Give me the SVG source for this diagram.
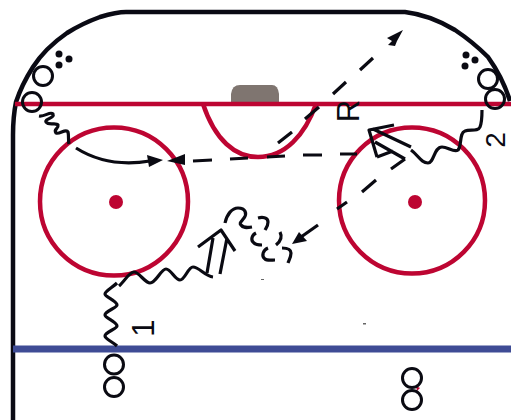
<svg xmlns="http://www.w3.org/2000/svg" width="511" height="420" viewBox="0 0 511 420">
<style>
.red{fill:none;stroke:#bd0532;stroke-width:4.500}
.ink{fill:none;stroke:#0a0a12;stroke-width:3.200;stroke-linecap:butt;stroke-linejoin:round}
.pl{fill:none;stroke:#0a0a12;stroke-width:3}
.dot{fill:#0a0a12}
.lbl{font-family:"Liberation Sans",Arial,sans-serif;font-size:31px;fill:#0a0a12}
</style>
<g id="rink">
<path d="M13 420V135C13 122 14 112 16 102C20 90 26 78 33 67C42 53 54 42 67 33C78 26 89 21 100 17C110 14 118 12 126 12H405C422 14 440 21 455 30C467 38 478 47 488 57C498 71 505 85 510 101" fill="none" stroke="#0a0a14" stroke-width="4.500"/>
<path d="M231 102V94Q232 85 240 85H272Q278 85 279 94V102Z" fill="#7f7570"/>
<path d="M15 104H511" class="red"/>
<path d="M203 104C215 140 235 157 258 157C285 157 305 135 316 104" class="red"/>
<circle cx="114" cy="201.500" r="74" class="red"/>
<circle cx="412" cy="200.500" r="73" class="red"/>
<circle cx="116" cy="202" r="7" fill="#bd0532"/>
<circle cx="415" cy="202" r="7" fill="#bd0532"/>
<path d="M13 349H511" stroke="#3f4c95" stroke-width="7"/>
<path d="M416 386L420 388L417 391Z" fill="#bd0532"/>
<rect x="261" y="279" width="3" height="1" fill="#666"/>
<rect x="363" y="323" width="3" height="1.500" fill="#666"/>
</g>
<g id="connectors">
<path class="ink" d="M39 116C45 117 50 111 53 114C55 118 44 119 46 122C49 126 56 122 58 125C59 129 53 129 56 133C59 135 66 128 68 132C69 136 68 140 69 144"/>
<path class="ink" d="M76 148C95 160 120 166 150 161"/>
<path class="dot" d="M163 160L147 155L149 167Z"/>
<path class="ink" d="M193 161L212 160M230 159L248 158M267 157L285 156M303 155L322 155M340 154L357 154"/>
<path class="dot" d="M167 161L185 154L185 165Z"/>
<path class="ink" d="M278 143L292 132M305 119L319 107M333 94L346 82M360 70L373 58"/>
<path class="dot" d="M403 30L387 38L392 41L388 45L395 46L397 41Z"/>
<path class="ink" d="M391 169L405 159M362 192L376 180M337 209L347 202"/>
<path class="ink" d="M318 225L301 237"/>
<path class="dot" d="M292 244L299 232L307 241Z"/>
<path class="ink" d="M394 125L369 130L377 157M373 129L411 147M375 142L405 159M377 157L393 151"/>
<path class="ink" d="M411 150C418 155 421 163 428 163C434 163 434 147 442 147C448 147 454 153 458 150C462 146 459 133 465 131C470 129 478 132 480 127C482 122 482 116 482 110"/>
<path class="ink" d="M117 346C113 342 105 339 105 336C105 332 117 329 117 326C117 322 105 318 105 315C105 311 117 308 117 305C117 301 105 297 105 294C105 291 113 287 117 283"/>
<path class="ink" d="M119 286C125 281 129 272 134 272C139 272 145 283 150 283C156 283 161 269 166 269C171 269 175 280 180 280C185 280 188 267 193 267C199 267 205 276 213 277"/>
<path class="ink" d="M198 247L221 230L235 251M207 273L213 238M220 274L227 238"/>
<path class="ink" d="M225 223C227 214 232 208 238 208C246 208 247 214 244 218C241 222 239 223 241 225C243 228 246 228 252 227"/>
<path class="ink" d="M258 218C262 217 268 217 268 222C268 226 266 228 265 230"/>
<path class="ink" d="M256 233C252 235 250 240 254 243C256 245 260 245 262 245"/>
<path class="ink" d="M280 232C282 236 281 241 276 245"/>
<path class="ink" d="M268 248C263 250 261 256 265 259C267 261 272 260 275 260"/>
<path class="ink" d="M282 248C286 248 291 249 291 253C291 257 289 260 288 263"/>
</g>
<g id="p1"><circle cx="32" cy="102" r="9.500" class="pl"/></g>
<g id="p2"><circle cx="43" cy="76" r="9.500" class="pl"/></g>
<g id="p3"><circle cx="495" cy="99" r="9.500" class="pl"/></g>
<g id="p4"><circle cx="488" cy="79" r="9.500" class="pl"/></g>
<g id="p5"><circle cx="114" cy="364.500" r="9.500" class="pl"/></g>
<g id="p6"><circle cx="114" cy="387" r="9.500" class="pl"/></g>
<g id="p7"><circle cx="412" cy="378" r="9.500" class="pl"/></g>
<g id="p8"><circle cx="412" cy="400" r="9.500" class="pl"/></g>
<g id="pucks-left" class="dot"><circle cx="59" cy="54" r="3.500"/><circle cx="69" cy="59" r="3.500"/><circle cx="59" cy="65" r="3.500"/></g>
<g id="pucks-right" class="dot"><circle cx="466" cy="55" r="3.500"/><circle cx="475" cy="60" r="3.500"/><circle cx="465" cy="66" r="3.500"/></g>
<g id="labels">
<text class="lbl" text-anchor="middle" transform="translate(154 328) rotate(-90)">1</text>
<text class="lbl" style="font-size:28px" text-anchor="middle" transform="translate(504.500 140) rotate(-90)">2</text>
<text class="lbl" text-anchor="middle" transform="translate(359 111) rotate(-90)">R</text>
</g>
</svg>
